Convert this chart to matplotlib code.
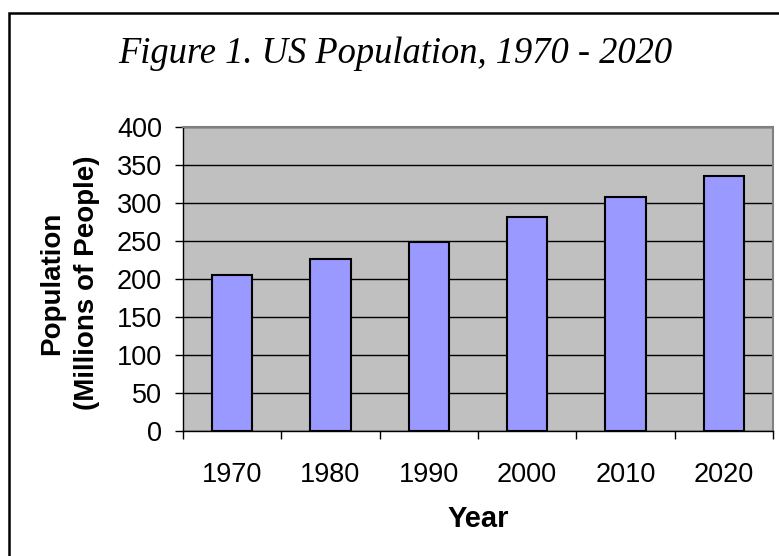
import matplotlib as mpl

mpl.use("Agg")
import matplotlib.pyplot as plt
from matplotlib.patches import Rectangle

years = ["1970", "1980", "1990", "2000", "2010", "2020"]
population = [205, 226.5, 249, 281.4, 308, 336]
y_ticks = [0, 50, 100, 150, 200, 250, 300, 350, 400]

plt.rcParams["font.family"] = ["Liberation Sans", "DejaVu Sans"]

fig = plt.figure(figsize=(7.79, 5.56), dpi=100)
ax = fig.add_axes([183 / 779, 1 - 431 / 556, 590 / 779, 304 / 556])

ax.set_facecolor("#C0C0C0")
x = list(range(len(years)))
ax.bar(x, population, width=0.41, color="#9999FF", edgecolor="black",
       linewidth=1.5, zorder=3)

ax.set_ylim(0, 400)
ax.set_xlim(-0.5, len(years) - 0.5)
ax.set_yticks(y_ticks)
ax.yaxis.grid(True, color="black", linewidth=1.0, zorder=1)
ax.set_axisbelow(True)

ax.set_xticks(x)
ax.set_xticklabels(years)
ax.set_xticks([i - 0.5 for i in range(len(years) + 1)], minor=True)
ax.tick_params(axis="x", which="major", length=0, pad=22, labelsize=19.5)
ax.tick_params(axis="x", which="minor", length=6, width=1, direction="out")
ax.tick_params(axis="y", length=6, width=1, direction="out", pad=9,
               labelsize=19.5)

for side in ["top", "right"]:
    ax.spines[side].set_color("#808080")
    ax.spines[side].set_linewidth(1.5)
for side in ["left", "bottom"]:
    ax.spines[side].set_color("black")
    ax.spines[side].set_linewidth(1.0)

ax.set_ylabel("Population\n(Millions of People)", fontsize=20,
              fontweight="bold", linespacing=1.45)
ax.yaxis.set_label_coords(-0.141, 0.487)
ax.set_xlabel("Year", fontsize=21, fontweight="bold")
ax.xaxis.set_label_coords(0.5, -0.243)

fig.text(395.5 / 779, 1 - 63 / 556, "Figure 1. US Population, 1970 - 2020",
         fontsize=26.3, style="italic", family="Liberation Serif",
         ha="center", va="baseline")

fig.patches.append(Rectangle((8.5 / 779, -0.1), 1.2, 1 - 13 / 556 + 0.1,
                             transform=fig.transFigure, fill=False,
                             edgecolor="black", linewidth=1.8))

fig.savefig("out.png", dpi=100)
